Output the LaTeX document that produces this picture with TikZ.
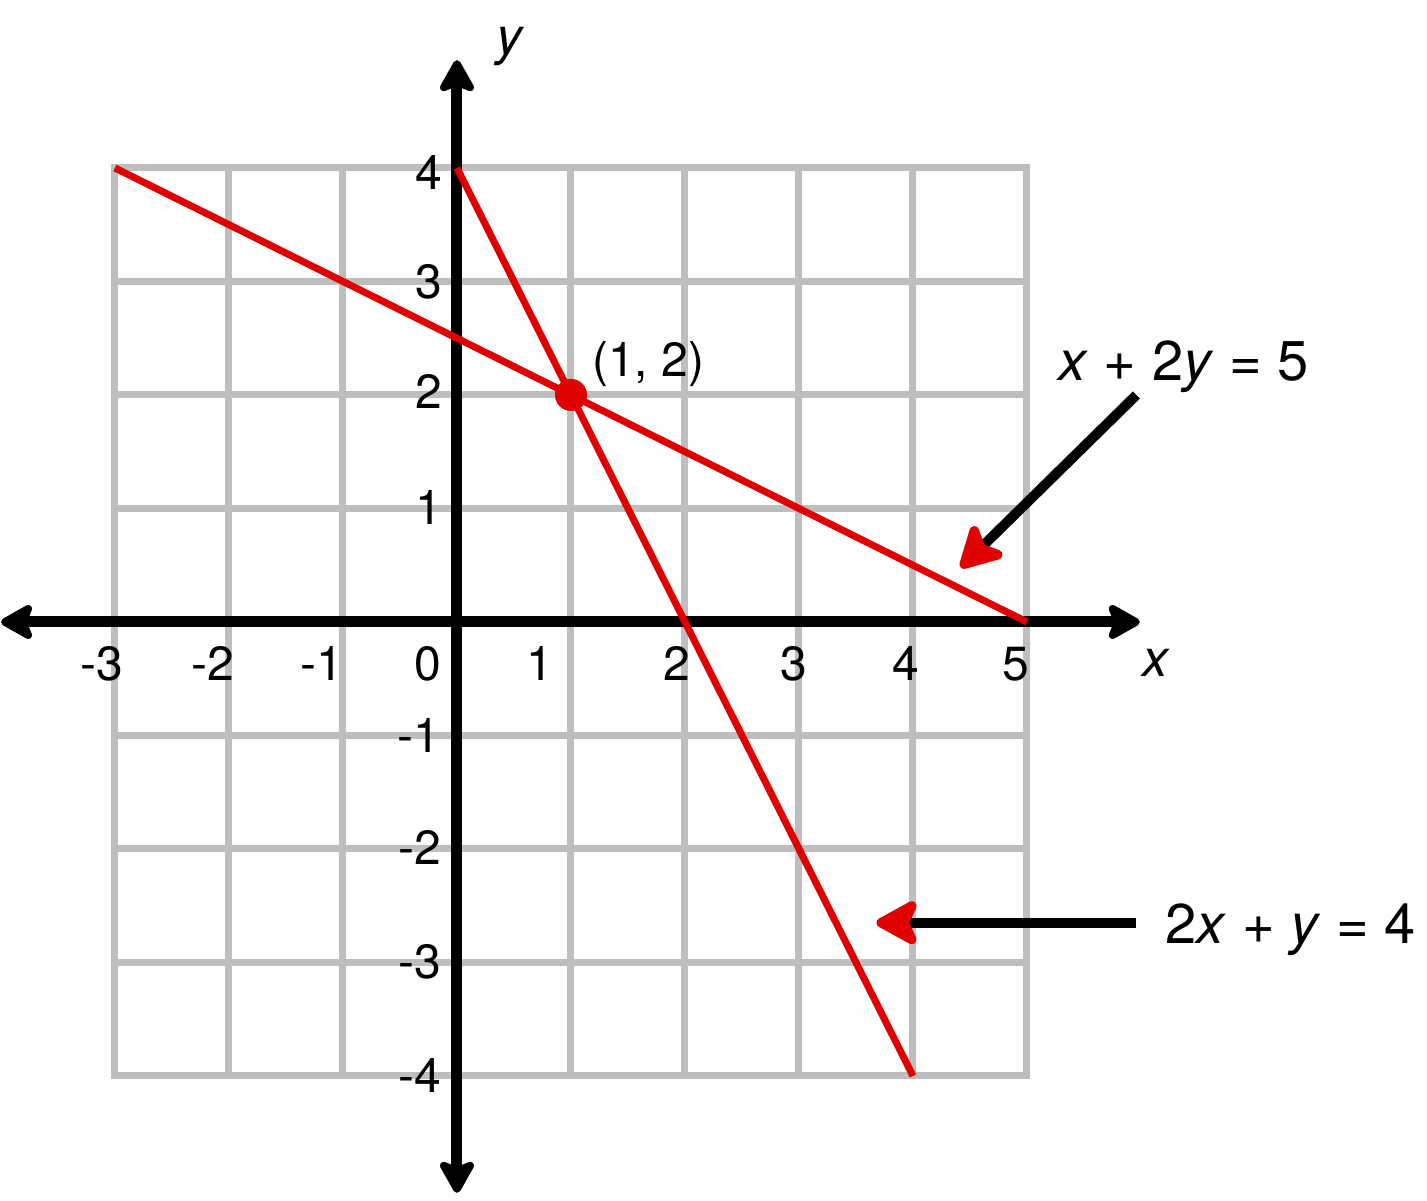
\documentclass[tikz,border=0pt]{standalone}
\usepackage{fontspec}
\setmainfont{TeX Gyre Heros}
\usetikzlibrary{arrows.meta}

\definecolor{gridgray}{RGB}{190,190,190}
\definecolor{linered}{RGB}{225,0,0}

\tikzset{every picture/.style={line width=0.75pt}}
\tikzset{
  gridline/.style={draw=gridgray,line width=3.5pt,line cap=rect},
  axisline/.style={line width=5.5pt,{Stealth[length=19pt,width=21pt,inset=4pt,round]}-{Stealth[length=19pt,width=21pt,inset=4pt,round]}},
  graphline/.style={draw=linered,line width=3.5pt},
  calloutline/.style={line width=5pt,-{Stealth[length=25pt,width=27pt,inset=6pt,round,color=linered]}},
  ticklabel/.style={font=\fontsize{24}{28}\selectfont,inner sep=0pt,anchor=base east},
  eqlabel/.style={font=\fontsize{28}{32}\selectfont,inner sep=0pt,anchor=base west},
}

\begin{document}
\begin{tikzpicture}[x=57pt,y=56.75pt]
\useasboundingbox (-4.0088,-5.093) rectangle (8.509,5.480);

%Shape: Grid
\draw[gridline,step=1] (-3,-4) grid (5,4);

%Shape: Axis 2D
\coordinate (xleft) at (-4.0,0);
\coordinate (xright) at (5.99,0);
\coordinate (ybottom) at (0,-5.03);
\coordinate (ytop) at (0,4.95);
\draw[axisline] (xleft) -- (xright);
\draw[axisline] (ybottom) -- (ytop);

%Straight Lines: x+2y=5
\coordinate (lineAstart) at (-3,4);
\coordinate (lineAend) at (5,0);
\draw[graphline] (lineAstart) -- (lineAend);
%Straight Lines: 2x+y=4
\coordinate (lineBstart) at (0,4);
\coordinate (lineBend) at (4,-4);
\draw[graphline] (lineBstart) -- (lineBend);

%Shape: Circle
\node[circle,fill=linered,minimum size=16pt,inner sep=0pt] (sol) at (1,2) {};

% Text Node
\node[ticklabel] (xtickm3) at (-2.92,-0.52) {-3};
\node[ticklabel] (xtickm2) at (-1.95,-0.52) {-2};
\node[ticklabel] (xtickm1) at (-0.99,-0.52) {-1};
\node[ticklabel] (xtick0) at (-0.13,-0.52) {0};
\node[ticklabel] (xtick1) at (0.85,-0.52) {1};
\node[ticklabel] (xtick2) at (2.05,-0.52) {2};
\node[ticklabel] (xtick3) at (3.08,-0.52) {3};
\node[ticklabel] (xtick4) at (4.06,-0.52) {4};
\node[ticklabel] (xtick5) at (5.03,-0.52) {5};
% Text Node
\node[ticklabel] (ytick4) at (-0.12,3.81) {4};
\node[ticklabel] (ytick3) at (-0.12,2.85) {3};
\node[ticklabel] (ytick2) at (-0.12,1.88) {2};
\node[ticklabel] (ytick1) at (-0.12,0.86) {1};
\node[ticklabel] (ytickm1) at (-0.14,-1.15) {-1};
\node[ticklabel] (ytickm2) at (-0.13,-2.14) {-2};
\node[ticklabel] (ytickm3) at (-0.13,-3.14) {-3};
\node[ticklabel] (ytickm4) at (-0.13,-4.15) {-4};

% Text Node
\node[font=\fontsize{26}{30}\selectfont\itshape,inner sep=0pt] (ylabel) at (0.46,5.07) {y};
\node[font=\fontsize{26}{30}\selectfont\itshape,inner sep=0pt] (xlabel) at (6.13,-0.36) {x};
\node[font=\fontsize{24}{28}\selectfont,inner sep=0pt,anchor=base west] (solpt) at (1.18,2.16) {(1, 2)};
\node[eqlabel] (eqA) at (5.27,2.13) {\textit{x} + 2\textit{y} = 5};
\node[eqlabel] (eqB) at (6.21,-2.83) {2\textit{x} + \textit{y} = 4};

%Straight Lines: callouts
\coordinate (eqAfoot) at (5.96,2.0);
\coordinate (eqAtip) at (4.42,0.48);
\draw[calloutline] (eqAfoot) -- (eqAtip);
\coordinate (eqBfoot) at (5.96,-2.65);
\coordinate (eqBtip) at (3.68,-2.65);
\draw[calloutline] (eqBfoot) -- (eqBtip);

\end{tikzpicture}
\end{document}
